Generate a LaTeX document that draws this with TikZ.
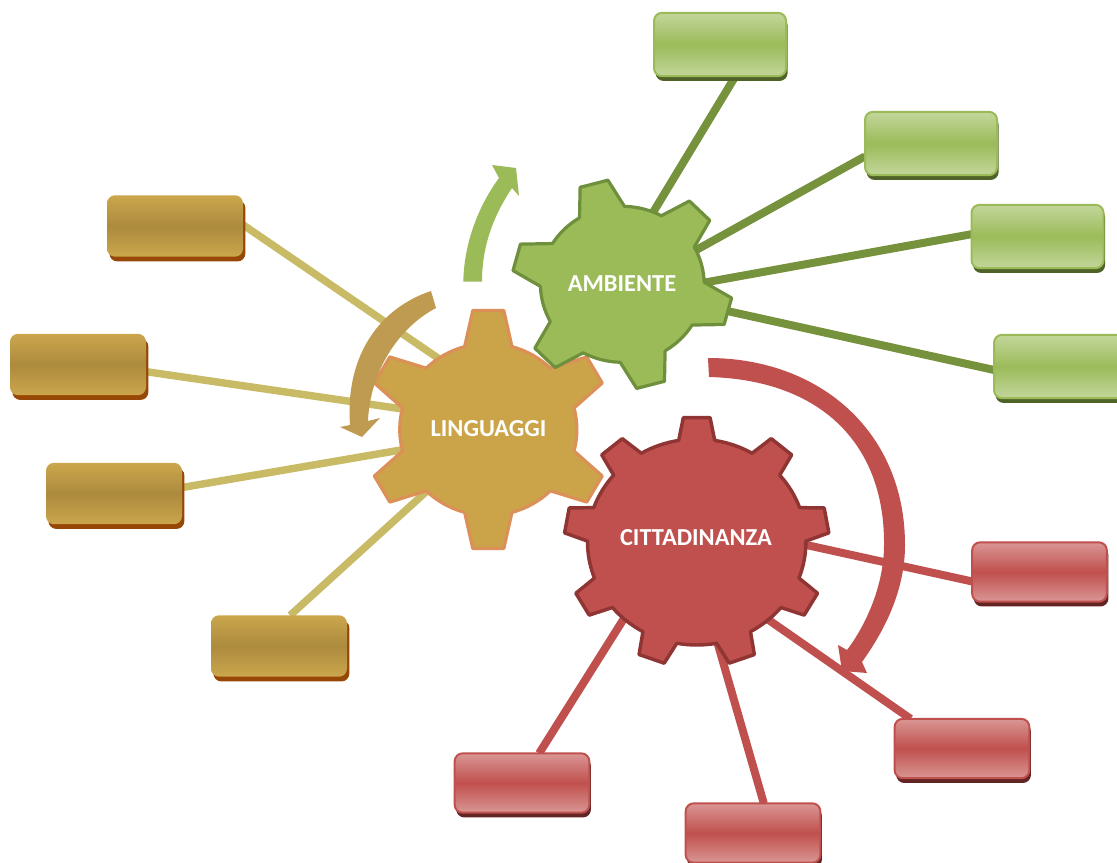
\documentclass[tikz,border=0pt]{standalone}
\usepackage{fontspec}
\setmainfont{Carlito}
\usetikzlibrary{shadows,backgrounds}

\definecolor{gearTan}{HTML}{CBA44A}
\definecolor{edgeTan}{HTML}{DB9058}
\definecolor{lineTan}{HTML}{C9BA66}
\definecolor{arrowTan}{HTML}{BE9B50}
\definecolor{boxTanA}{HTML}{CBA64C}
\definecolor{boxTanB}{HTML}{AC8B3E}
\definecolor{shadowTan}{HTML}{974806}
\definecolor{gearGreen}{HTML}{9BBB59}
\definecolor{edgeGreen}{HTML}{6E8F3C}
\definecolor{lineGreen}{HTML}{76923C}
\definecolor{boxGreenA}{HTML}{C3D69B}
\definecolor{shadowGreen}{HTML}{4F6228}
\definecolor{gearRed}{HTML}{C0504D}
\definecolor{edgeRed}{HTML}{8F3533}
\definecolor{boxRedA}{HTML}{D99694}
\definecolor{shadowRed}{HTML}{632523}

\newcommand{\gearshape}[8]{%
  \draw[shift={(#2)},#1] ({#4-#7}:#5)
    \foreach \k [evaluate=\k as \a using {#4+(\k-1)*360/#3}] in {1,...,#3} {
      -- ({\a-#7}:#5) -- ({\a-#8}:#6) -- ({\a+#8}:#6) -- ({\a+#7}:#5)
      arc[start angle={\a+#7},end angle={\a+360/#3-#7},radius=#5]
    } -- cycle;
}

\begin{document}
\begin{tikzpicture}[x=0.75pt,y=-0.75pt,
  box/.style = {rectangle,rounded corners=6pt,minimum height=46pt,inner sep=0pt,outer sep=0pt},
  tanbox/.style = {box,minimum width=102pt,top color=boxTanA,bottom color=boxTanA,middle color=boxTanB,
    general shadow={shadow xshift=1.8pt,shadow yshift=-3.6pt,fill=shadowTan}},
  greenbox/.style = {box,minimum width=99pt,minimum height=47.5pt,draw=gearGreen,line width=1.5pt,top color=boxGreenA,bottom color=boxGreenA,middle color=gearGreen,
    general shadow={shadow xshift=1.2pt,shadow yshift=-3.6pt,fill=shadowGreen}},
  redbox/.style = {box,minimum width=101pt,minimum height=44.5pt,draw=gearRed,line width=1.5pt,top color=boxRedA,bottom color=boxRedA,middle color=gearRed,
    general shadow={shadow xshift=1.2pt,shadow yshift=-3.6pt,fill=shadowRed}},
  tanline/.style = {draw=lineTan,line width=5.6pt},
  greenline/.style = {draw=lineGreen,line width=6pt},
  redline/.style = {draw=gearRed,line width=6pt},
  gearlabel/.style = {text=white,font=\fontsize{18.3}{20}\selectfont\bfseries,inner sep=0pt}]
\useasboundingbox (0,0) rectangle (1117,863);
\clip (0,0) rectangle (1117,863);

\node[tanbox] (t1) at (175,226) {};
\node[tanbox] (t2) at (78,364.5) {};
\node[tanbox] (t3) at (114,493.5) {};
\node[tanbox] (t4) at (279,646) {};
\node[greenbox] (g1) at (720,44.5) {};
\node[greenbox] (g2) at (931,143.5) {};
\node[greenbox] (g3) at (1037.5,236.5) {};
\node[greenbox] (g4) at (1060,366.5) {};
\node[redbox] (r1) at (1039.5,572) {};
\node[redbox] (r2) at (962,748.5) {};
\node[redbox] (r3) at (753,833) {};
\node[redbox] (r4) at (522,783) {};

\coordinate (lt1) at (470,380);
\coordinate (lt2) at (430,413);
\coordinate (lt3) at (430,445);
\coordinate (lt4) at (450,470);
\coordinate (lg1) at (640,234);
\coordinate (lg2) at (680,259);
\coordinate (lg3) at (680,287);
\coordinate (lg4) at (700,305);
\coordinate (lr1) at (770,537);
\coordinate (lr2) at (740,600);
\coordinate (lr3) at (708,610);
\coordinate (lr4) at (640,593);

\begin{pgfonlayer}{background}
\draw[tanline] (t1.1) -- (lt1);
\draw[tanline] (t2.-6) -- (lt2);
\draw[tanline] (t3.5) -- (lt3);
\draw[tanline] (t4.70) -- (lt4);
\draw[greenline] (g1.-64) -- (lg1);
\draw[greenline] (g2.191) -- (lg2);
\draw[greenline] (g3.178) -- (lg3);
\draw[greenline] (g4.183) -- (lg4);
\draw[redline] (r1.188) -- (lr1);
\draw[redline] (r2.150) -- (lr2);
\draw[redline] (r3.70) -- (lr3);
\draw[redline] (r4.60) -- (lr4);
\end{pgfonlayer}

\gearshape{fill=gearRed,draw=edgeRed,line width=2.6pt,line join=round,xscale=1.06}{696.7,542}{9}{-90}{103}{125}{9.5}{5.8}
\gearshape{fill=gearTan,draw=edgeTan,line width=2.4pt,line join=round,xscale=1.03}{488.3,429.5}{6}{30}{86}{120}{15.5}{7.2}
\gearshape{fill=gearGreen,draw=edgeGreen,line width=2.4pt,line join=round,xscale=1.05}{622.3,284.3}{6}{15}{78}{105}{16.5}{7.5}

\node[gearlabel] (ling) at (488.5,428.5) {LINGUAGGI};
\node[gearlabel] (amb) at (622,283.5) {AMBIENTE};
\node[gearlabel] (cit) at (696,537.5) {CITTADINANZA};

\fill[gearGreen] (463.3,281.7) .. controls (464,245) and (477,208) .. (499,178) -- (492,165) -- (516,168) -- (519,196) -- (512,188) .. controls (494,215) and (482,245) .. (482,281.7) -- cycle;
\fill[arrowTan] (431,291) .. controls (380,308) and (345,355) .. (350,425) -- (340,427) -- (362,437) -- (380,418) -- (368,421) .. controls (370,372) and (398,328) .. (436,308) -- cycle;
\fill[gearRed] (708,358) .. controls (820,358) and (905,432) .. (905,545) .. controls (905,590) and (885,630) .. (862,662) -- (867,673) -- (842,671) -- (838,645) -- (847,650) .. controls (866,625) and (884,585) .. (884,545) .. controls (885,445) and (822,380) .. (709,377) -- cycle;
\end{tikzpicture}
\end{document}
